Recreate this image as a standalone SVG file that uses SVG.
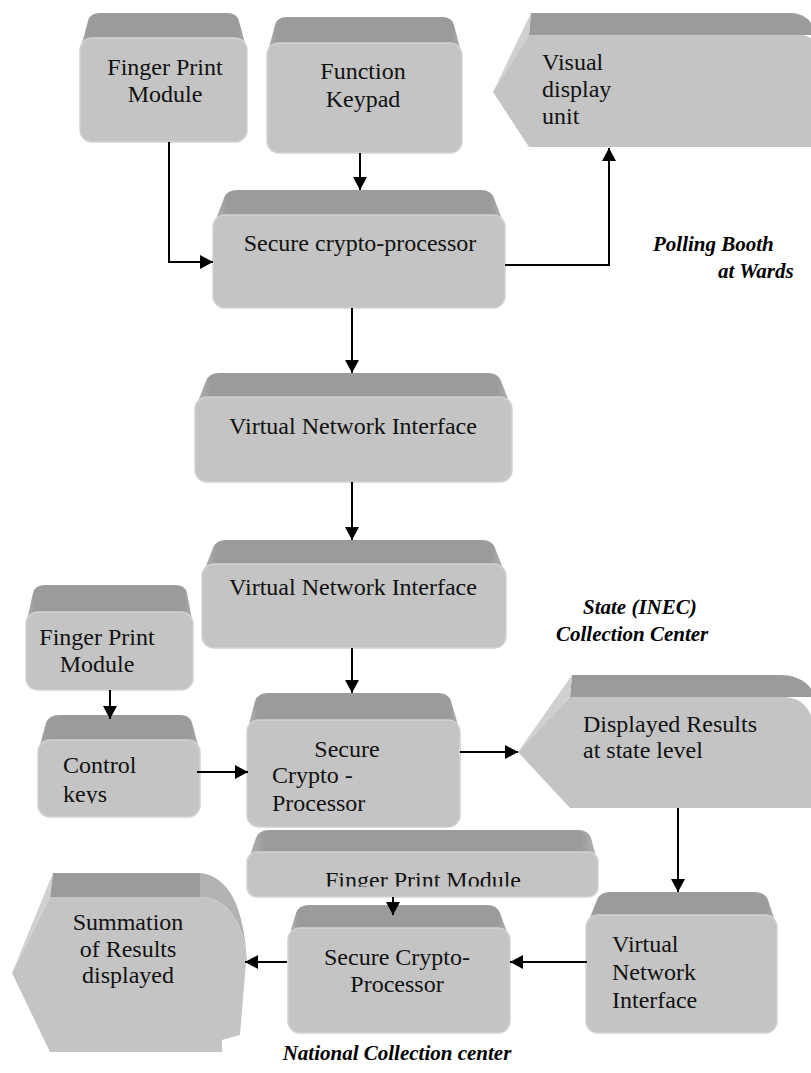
<svg xmlns="http://www.w3.org/2000/svg" width="811" height="1073" viewBox="0 0 811 1073">
<style>
.front{fill:#c4c4c4;stroke:#d2d2d2;stroke-width:1.5}
.top{fill:url(#topg)}
.facet{fill:#d0d0d0}
.rfacet{fill:#b2b2b2}
.t{font-family:'Liberation Serif','DejaVu Serif',serif;font-size:24px;fill:#111}
.c{text-anchor:middle}
.lab{font-family:'Liberation Serif','DejaVu Serif',serif;font-size:21px;font-weight:bold;font-style:italic;fill:#000}
.edge{fill:none;stroke:#000;stroke-width:2;marker-end:url(#ah)}
</style>
<defs>
<linearGradient id="topg" x1="0" y1="0" x2="1" y2="0">
<stop offset="0" stop-color="#b4b4b4"/>
<stop offset="0.05" stop-color="#9b9b9b"/>
<stop offset="0.95" stop-color="#9b9b9b"/>
<stop offset="1" stop-color="#b4b4b4"/>
</linearGradient>
<marker id="ah" markerUnits="userSpaceOnUse" markerWidth="14" markerHeight="14" refX="13" refY="7" orient="auto">
<path d="M0,0 L13,7 L0,14 Z" fill="#000"/>
</marker>
<clipPath id="clipFPM3"><rect x="240" y="820" width="370" height="66.5"/></clipPath>
<clipPath id="clipCK"><rect x="30" y="740" width="180" height="63.5"/></clipPath>
</defs>

<g id="fpm1">
<path class="top" d="M80,50 L88,21 Q90,13 100,13 L227,13 Q237,13 239,21 L247,50 Z"/>
<rect class="front" x="80" y="38" width="167" height="104" rx="12"/>
<text class="t c" x="165" y="75">Finger Print</text>
<text class="t c" x="165" y="102">Module</text>
</g>

<g id="keypad">
<path class="top" d="M267,55 L275,25 Q277,17 287,17 L442,17 Q452,17 454,25 L462,55 Z"/>
<rect class="front" x="267" y="43" width="195" height="110" rx="12"/>
<text class="t c" x="363" y="79">Function</text>
<text class="t c" x="363" y="107">Keypad</text>
</g>

<g id="vdu">
<path d="M531,13 L790,13 Q808,13 815,30 L815,35 L529,35 Z" fill="#9b9b9b"/>
<path class="facet" d="M531,13 L493,92 L529,35 Z"/>
<path d="M493,92 L529,35 L800,35 Q815,35 815,50 L815,147 L529,147 Z" fill="#c4c4c4"/>
<text class="t" x="542" y="70">Visual</text>
<text class="t" x="542" y="97">display</text>
<text class="t" x="542" y="124">unit</text>
</g>

<g id="scp1">
<path class="top" d="M213,227 L224,198 Q227,190 237,190 L481,190 Q491,190 494,198 L505,227 Z"/>
<rect class="front" x="213" y="215" width="292" height="93" rx="12"/>
<text class="t c" x="360" y="251">Secure crypto-processor</text>
</g>

<g id="vni1">
<path class="top" d="M195,409 L206,381 Q209,373 219,373 L488,373 Q498,373 501,381 L512,409 Z"/>
<rect class="front" x="195" y="397" width="317" height="85" rx="12"/>
<text class="t c" x="353" y="434">Virtual Network Interface</text>
</g>

<g id="vni2">
<path class="top" d="M202,576 L213,548 Q216,540 226,540 L482,540 Q492,540 495,548 L506,576 Z"/>
<rect class="front" x="202" y="564" width="304" height="84" rx="12"/>
<text class="t c" x="353" y="595">Virtual Network Interface</text>
</g>

<g id="fpm2">
<path class="top" d="M26,624 L33,593 Q35,585 45,585 L175,585 Q185,585 187,593 L193,624 Z"/>
<rect class="front" x="26" y="612" width="167" height="78" rx="12"/>
<text class="t c" x="97" y="645">Finger Print</text>
<text class="t c" x="97" y="672">Module</text>
</g>

<g id="ctrl">
<path class="top" d="M38,752 L46,723 Q49,715 59,715 L180,715 Q190,715 192,723 L200,752 Z"/>
<rect class="front" x="38" y="740" width="162" height="77" rx="12"/>
<text class="t" x="63" y="773">Control</text>
<text class="t" x="63" y="801.5" clip-path="url(#clipCK)">keys</text>
</g>

<g id="scp2">
<path class="top" d="M247,732 L255,701 Q258,693 268,693 L438,693 Q448,693 451,701 L460,732 Z"/>
<rect class="front" x="247" y="720" width="213" height="107" rx="12"/>
<text class="t c" x="347" y="757">Secure</text>
<text class="t" x="272" y="783">Crypto -</text>
<text class="t" x="272" y="811">Processor</text>
</g>

<g id="dres">
<path d="M572,675 L780,675 Q805,675 815,695 L815,697 L570,697 Z" fill="#9b9b9b"/>
<path class="facet" d="M572,675 L518,752 L570,697 Z"/>
<path d="M518,752 L570,697 L782,697 Q815,697 815,740 L815,808 L570,808 Z" fill="#c4c4c4"/>
<text class="t" x="583" y="732">Displayed Results</text>
<text class="t" x="583" y="758">at state level</text>
</g>

<g id="fpm3">
<path class="top" d="M247,864 L256,838 Q259,830 269,830 L578,830 Q588,830 591,838 L598,864 Z"/>
<rect class="front" x="247" y="852" width="351" height="45" rx="10"/>
<text class="t c" x="423" y="888" clip-path="url(#clipFPM3)">Finger Print Module</text>
</g>

<g id="scp3">
<path class="top" d="M288,940 L296,913 Q299,905 309,905 L487,905 Q497,905 500,913 L510,940 Z"/>
<rect class="front" x="288" y="928" width="222" height="105" rx="12"/>
<text class="t c" x="397" y="965">Secure Crypto-</text>
<text class="t c" x="397" y="992">Processor</text>
</g>

<g id="vni3">
<path class="top" d="M586,927 L597,900 Q600,892 610,892 L755,892 Q765,892 768,900 L777,927 Z"/>
<rect class="front" x="586" y="915" width="191" height="118" rx="12"/>
<text class="t" x="612" y="952">Virtual</text>
<text class="t" x="612" y="980">Network</text>
<text class="t" x="612" y="1008">Interface</text>
</g>

<g id="sum">
<path d="M53,873 L200,873 L200,897 L50,897 Z" fill="#9b9b9b"/>
<path class="facet" d="M53,873 L12,973 L50,897 Z"/>
<path class="rfacet" d="M200,873 C228,876 244,905 247,962 L246,962 C246,925 228,897 200,897 Z"/>
<path d="M12,973 L50,897 L200,897 C228,897 246,925 246,962 L240,1035 L222,1040 L222,1052 L50,1052 Z" fill="#c4c4c4"/>
<text class="t c" x="128" y="930">Summation</text>
<text class="t c" x="128" y="957">of Results</text>
<text class="t c" x="128" y="983">displayed</text>
</g>

<g id="connectors">
<path class="edge" d="M169,142 L169,262 L213,262"/>
<path class="edge" d="M360,153 L360,190"/>
<path class="edge" d="M505,265 L609,265 L609,148"/>
<path class="edge" d="M352,308 L352,373"/>
<path class="edge" d="M352,482 L352,540"/>
<path class="edge" d="M352,648 L352,693"/>
<path class="edge" d="M110,690 L110,719"/>
<path class="edge" d="M197,772 L248,772"/>
<path class="edge" d="M460,752 L518,752"/>
<path class="edge" d="M678,808 L678,892"/>
<path class="edge" d="M393,897 L393,915"/>
<path class="edge" d="M587,962 L510,962"/>
<path class="edge" d="M287,962 L245,962"/>
</g>

<g id="labels">
<text class="lab" x="653" y="251">Polling Booth</text>
<text class="lab" x="718" y="278">at Wards</text>
<text class="lab" x="583" y="614">State (INEC)</text>
<text class="lab" x="556" y="641">Collection Center</text>
<text class="lab" x="397" y="1060" text-anchor="middle">National Collection center</text>
</g>
</svg>
